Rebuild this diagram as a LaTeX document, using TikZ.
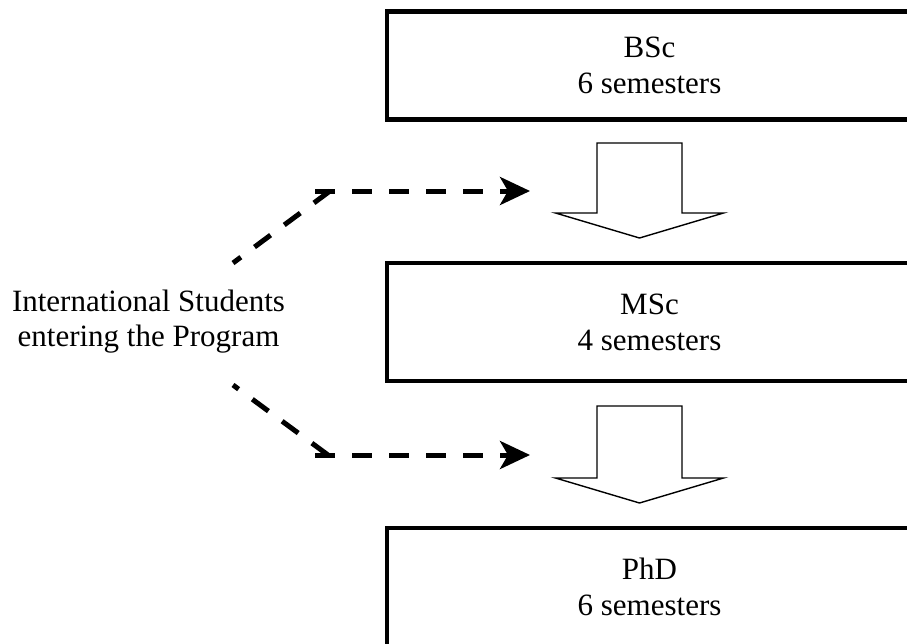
\documentclass[tikz,border=0pt]{standalone}
\usepackage{fontspec}
\setmainfont{Liberation Serif}
\usetikzlibrary{arrows.meta}
\begin{document}
\begin{tikzpicture}[x=1pt,y=-1pt,
  stage/.style={draw, line width=4.6pt, minimum width=525pt, align=center,
    font=\fontsize{31}{36}\selectfont, inner sep=0pt},
  flow/.style={draw, line width=1.4pt, fill=white, line join=miter},
  entry/.style={line width=5pt, dash pattern=on 20pt off 17pt},
  entryhead/.style={-{Stealth[length=30pt,width=28pt,inset=8pt]}},
  label/.style={align=center, font=\fontsize{31}{35}\selectfont, inner sep=0pt},
  pics/blockdown/.style={code={
    \draw[flow] (-42.5,0) -- (42.5,0) -- (42.5,#1) -- (84,#1) -- (0,#1+25)
      -- (-84,#1) -- (-42.5,#1) -- cycle;}}]
\clip (0,0) rectangle (907,643);

% degree stages
\node[stage, minimum height=107.5pt] (bsc) at (649.5,65.5) {BSc\\6 semesters};
\node[stage, minimum height=118pt] (msc) at (649.5,322) {MSc\\4 semesters};
\node[stage, minimum height=118pt] (phd) at (649.5,587) {PhD\\6 semesters};

% progression between stages
\pic at (639.5,143) {blockdown=70};
\pic at (639.5,406) {blockdown=72};

% entry points for international students
\node[label] (intl) at (148.5,322) {International Students\\entering the Program};

\coordinate (src1) at (233,263);
\coordinate (bend1) at (330,191);
\coordinate (from1) at (315,191);
\coordinate (to1) at (530,191);
\coordinate (src2) at (233,385);
\coordinate (bend2) at (328,455);
\coordinate (from2) at (315,455);
\coordinate (to2) at (530,455);

\draw[entry] (bend1) -- (src1);
\draw[entry, entryhead] (from1) -- (to1);
\draw[entry] (bend2) -- (src2);
\draw[entry, entryhead] (from2) -- (to2);
\end{tikzpicture}
\end{document}
